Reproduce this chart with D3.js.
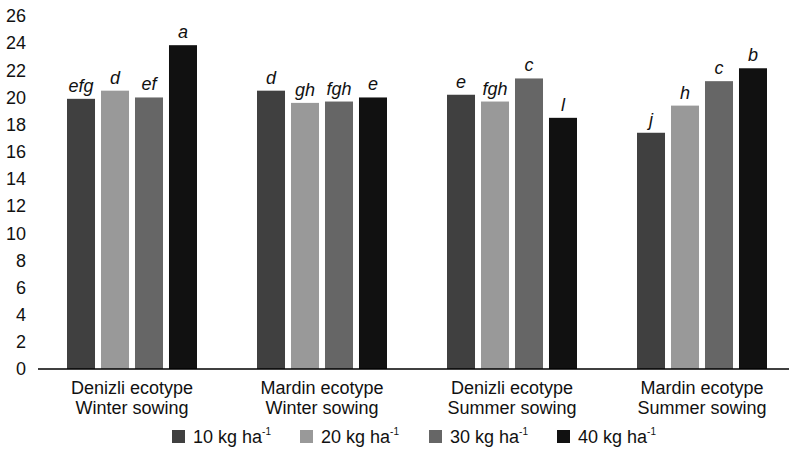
<!DOCTYPE html>
<html><head><meta charset="utf-8">
<script src="https://cdn.jsdelivr.net/npm/d3@7"></script>
<style>body{margin:0;background:#fff}svg{display:block;font-family:"Liberation Sans",Arial,sans-serif}</style>
</head><body><svg id="c" width="789" height="451"></svg>
<script>
const groups = [["Denizli ecotype","Winter sowing"],["Mardin ecotype","Winter sowing"],["Denizli ecotype","Summer sowing"],["Mardin ecotype","Summer sowing"]];
const seriesNames = ["10 kg ha","20 kg ha","30 kg ha","40 kg ha"];
const seriesColors = ["#404040","#999999","#666666","#111111"];
const s10 = [19.9, 20.5, 20.2, 17.4];
const s20 = [20.5, 19.6, 19.7, 19.4];
const s30 = [20.0, 19.7, 21.4, 21.2];
const s40 = [23.85, 20.0, 18.5, 22.15];
const letters10 = ["efg","d","e","j"];
const letters20 = ["d","gh","fgh","h"];
const letters30 = ["ef","fgh","c","c"];
const letters40 = ["a","e","l","b"];
const yTicks = d3.range(0, 27, 2);

const series = [s10,s20,s30,s40];
const lets = [letters10,letters20,letters30,letters40];
const svg = d3.select("#c");
const x0 = d3.scaleBand().domain(d3.range(groups.length)).range([37, 797]);
const y = d3.scaleLinear().domain([0, 26]).range([369, 16]);
const x1 = d3.scaleBand().domain(d3.range(4)).range([0, 130]).paddingInner(0.176).paddingOuter(0);
const txt = "#111";
const fs = 18;

// y tick labels
svg.append("g").selectAll("text").data(yTicks).join("text")
  .attr("x", 26).attr("y", d => y(d)).attr("dy", "0.35em")
  .attr("text-anchor", "end").attr("font-size", fs).attr("fill", txt).text(d => d);

// bars
const g = svg.append("g");
groups.forEach((grp, gi) => {
  const gx = x0(gi) + (x0.bandwidth() - 130) / 2;
  series.forEach((s, si) => {
    const bx = gx + x1(si) ;
    g.append("rect").attr("x", bx).attr("y", y(s[gi])).attr("width", x1.bandwidth())
      .attr("height", y(0) - y(s[gi])).attr("fill", seriesColors[si]);
    g.append("text").attr("x", bx + x1.bandwidth()/2).attr("y", y(s[gi]) - 7)
      .attr("text-anchor", "middle").attr("font-size", fs).attr("font-style", "italic")
      .attr("fill", txt).text(lets[si][gi]);
  });
  const cx = x0(gi) + x0.bandwidth()/2;
  const t = svg.append("text").attr("text-anchor", "middle").attr("font-size", fs).attr("fill", txt);
  t.append("tspan").attr("x", cx).attr("y", 393.5).text(grp[0]);
  t.append("tspan").attr("x", cx).attr("y", 413.5).text(grp[1]);
});

// axis line
svg.append("line").attr("x1", 38).attr("x2", 789).attr("y1", y(0)).attr("y2", y(0))
  .attr("stroke", "#000").attr("stroke-width", 1.3);

// legend
const legX = [172, 300, 429, 557];
seriesNames.forEach((n, i) => {
  svg.append("rect").attr("x", legX[i]).attr("y", 430).attr("width", 13).attr("height", 13).attr("fill", seriesColors[i]);
  const t = svg.append("text").attr("x", legX[i] + 21).attr("y", 443).attr("font-size", fs).attr("fill", txt);
  t.append("tspan").text(n);
  t.append("tspan").attr("dy", -8).attr("font-size", 10).text("-1");
});
</script></body></html>
